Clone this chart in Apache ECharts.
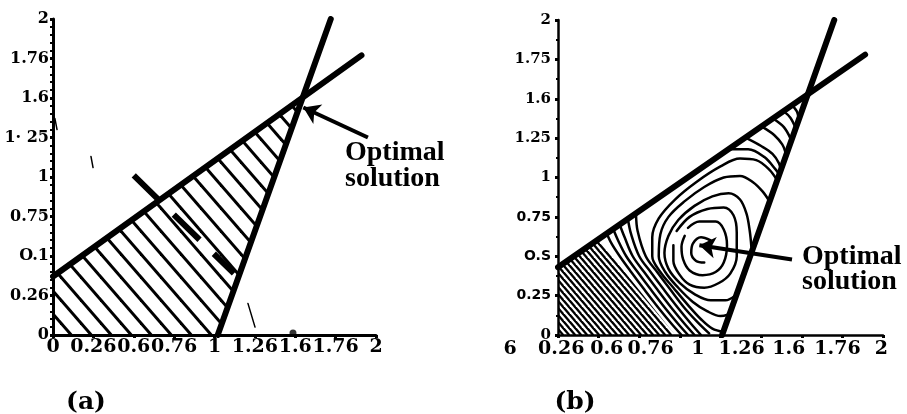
<!DOCTYPE html>
<html>
<head>
<meta charset="utf-8">
<script src="https://cdn.jsdelivr.net/npm/echarts@6/dist/echarts.min.js"></script>
<style>
  html, body { margin: 0; background: #fff; }
  #chart { width: 907px; height: 414px; }
</style>
</head>
<body>
<div id="chart"></div>
<script>
// axis ticks and the (odd) tick labels as printed in the figure
const ticks = [0, 0.25, 0.5, 0.75, 1, 1.25, 1.5, 1.75, 2]
const aXLabels = ['0', '0.26', '0.6', '0.76', '1', '1.26', '1.6', '1.76', '2']
const aYLabels = ['0', '0.26', 'O.1', '0.75', '1', '1· 25', '1.6', '1.76', '2']
const bXLabels = ['0.26', '0.6', '0.76', '1', '1.26', '1.6', '1.76', '2']
const bXLabelPos = [0.02, 0.30, 0.57, 0.86, 1.13, 1.42, 1.72, 1.99]
const bXStray = '6'
const bYLabels = ['0', '0.25', 'O.S', '0.75', '1', '1.25', '1.6', '1.75', '2']
const bYSans = ['0.25', 'O.S', '0.75']

// panel (a): constraints, feasible region, objective line
const aUpper = [[0, 0.37], [1.91, 1.77]]
const aRight = [[1.02, 0], [1.72, 2.0]]
const aRegion = [[0, 0], [0, 0.37], [1.543, 1.497], [1.02, 0]]
const aObjective = [[0.50, 1.01], [1.12, 0.39]]
const aStrokes = [
  [[0.012, 1.37], [0.025, 1.30]],
  [[0.235, 1.13], [0.248, 1.06]],
  [[1.207, 0.20], [1.251, 0.05]]
]
const aDot = [[1.486, 0.013]]
const aArrow = [[1.95, 1.25], [1.55, 1.44]]

// panel (b): constraints, dense level lines, contour curves
const bUpper = [[0, 0.43], [1.89, 1.78]]
const bRight = [[1.01, 0], [1.70, 2.0]]
const bHatch = [[0, 0], [0, 0.43], [0.25, 0.61], [0.72, 0]]
const bArrow = [[1.44, 0.48], [0.87, 0.57]]
const bContours = [
  // spiral around the optimum
  [[0.94, 0.60], [0.88, 0.62], [0.83, 0.58], [0.82, 0.52], [0.85, 0.47], [0.90, 0.46]],
  [[0.80, 0.68], [0.87, 0.72], [0.97, 0.72], [1.02, 0.67], [1.04, 0.57], [1.02, 0.46], [0.97, 0.40], [0.89, 0.38], [0.81, 0.41], [0.77, 0.48], [0.76, 0.56], [0.78, 0.63]],
  [[0.73, 0.66], [0.81, 0.75], [0.92, 0.80], [1.02, 0.81], [1.08, 0.76], [1.10, 0.65], [1.10, 0.50], [1.06, 0.39], [0.99, 0.33], [0.90, 0.30], [0.81, 0.32], [0.75, 0.38], [0.71, 0.47], [0.71, 0.57]],
  // loops cut by the right constraint
  [[1.19, 0.56], [1.18, 0.66], [1.16, 0.77], [1.12, 0.86], [1.05, 0.90], [0.95, 0.88], [0.84, 0.82], [0.74, 0.73], [0.68, 0.63], [0.655, 0.52], [0.68, 0.42], [0.75, 0.33], [0.84, 0.26], [0.94, 0.22], [1.03, 0.22], [1.09, 0.25]],
  [[1.30, 0.85], [1.26, 0.91], [1.20, 0.97], [1.12, 1.01], [1.02, 1.00], [0.90, 0.94], [0.78, 0.85], [0.68, 0.75], [0.63, 0.64], [0.62, 0.50], [0.66, 0.40], [0.74, 0.30], [0.83, 0.21], [0.92, 0.15], [1.00, 0.12], [1.05, 0.13]],
  [[1.35, 0.98], [1.30, 1.05], [1.22, 1.11], [1.12, 1.12], [1.00, 1.07], [0.85, 0.97], [0.72, 0.86], [0.62, 0.74], [0.58, 0.62], [0.58, 0.50], [0.63, 0.40], [0.71, 0.30], [0.80, 0.19], [0.88, 0.10], [0.95, 0.04], [1.02, 0.02]],
  // level lines from the upper constraint down to the x axis
  [[0.48, 0.77], [0.49, 0.66], [0.54, 0.50], [0.61, 0.40], [0.69, 0.29], [0.78, 0.17], [0.86, 0.08], [0.93, 0.01]],
  [[0.43, 0.737], [0.45, 0.64], [0.50, 0.50], [0.57, 0.40], [0.65, 0.29], [0.74, 0.17], [0.82, 0.07], [0.88, 0.0]],
  [[0.38, 0.70], [0.41, 0.62], [0.46, 0.50], [0.53, 0.40], [0.61, 0.29], [0.70, 0.17], [0.78, 0.07], [0.84, 0.0]],
  [[0.34, 0.673], [0.37, 0.60], [0.42, 0.50], [0.49, 0.40], [0.57, 0.29], [0.66, 0.17], [0.74, 0.07], [0.80, 0.0]],
  [[0.30, 0.645], [0.33, 0.58], [0.38, 0.50], [0.45, 0.40], [0.53, 0.29], [0.62, 0.17], [0.70, 0.07], [0.76, 0.0]],
  // arcs in the top corner
  [[1.05, 1.18], [1.17, 1.18], [1.27, 1.13], [1.34, 1.05], [1.36, 1.02]],
  [[1.16, 1.25], [1.25, 1.20], [1.32, 1.15], [1.36, 1.09], [1.37, 1.05]],
  [[1.26, 1.32], [1.33, 1.27], [1.38, 1.21], [1.40, 1.16]],
  [[1.33, 1.37], [1.39, 1.32], [1.43, 1.25]],
  [[1.39, 1.42], [1.43, 1.38], [1.46, 1.32]],
  [[1.44, 1.46], [1.47, 1.42], [1.48, 1.38]]
]

const serif = '"DejaVu Serif"'
const times = '"Liberation Serif"'

// diagonal stripe tile used as hatch fill
function stripes (w, h, lw) {
  const c = document.createElement('canvas')
  c.width = w
  c.height = h
  const g = c.getContext('2d')
  g.strokeStyle = '#000'
  g.lineWidth = lw
  for (let k = -1; k <= 1; k++) {
    g.beginPath()
    g.moveTo(k * w - w, -h)
    g.lineTo(k * w + 2 * w, 2 * h)
    g.stroke()
  }
  return c
}

function seg (data, idx, width, extra) {
  return Object.assign({
    type: 'line',
    xAxisIndex: idx,
    yAxisIndex: idx,
    data: data,
    symbol: 'none',
    silent: true,
    z: 5,
    lineStyle: { color: '#000', width: width, cap: 'round' }
  }, extra || {})
}

function region (points, idx, tile) {
  return {
    type: 'custom',
    xAxisIndex: idx,
    yAxisIndex: idx,
    silent: true,
    z: 1,
    data: [[0, 0]],
    renderItem: (params, api) => ({
      type: 'polygon',
      shape: { points: points.map(p => api.coord(p)) },
      style: { fill: { image: tile, repeat: 'repeat' }, stroke: null }
    })
  }
}

function arrow (coords, idx) {
  return {
    type: 'lines',
    coordinateSystem: 'cartesian2d',
    xAxisIndex: idx,
    yAxisIndex: idx,
    silent: true,
    z: 6,
    symbol: ['none', 'arrow'],
    symbolSize: 16,
    lineStyle: { color: '#000', width: 4, opacity: 1, curveness: 0 },
    data: [{ coords: coords }]
  }
}

const chart = echarts.init(document.getElementById('chart'))

const series = [
  region(aRegion, 0, stripes(20, 23, 3)),
  seg(aUpper, 0, 6),
  seg(aRight, 0, 6),
  seg(aObjective, 0, 6, { lineStyle: { color: '#000', width: 6, type: [36, 20], cap: 'butt' } }),
  seg(aStrokes[0], 0, 1.5),
  seg(aStrokes[1], 0, 1.5),
  seg(aStrokes[2], 0, 1.5),
  {
    type: 'scatter', xAxisIndex: 0, yAxisIndex: 0, data: aDot, symbolSize: 7,
    itemStyle: { color: '#000' }, silent: true, z: 6
  },
  arrow(aArrow, 0),
  region(bHatch, 1, stripes(6, 7, 2.4))
]
bContours.forEach(c => {
  series.push(seg(c, 1, 2.5, { smooth: 0.35, z: 3 }))
})
series.push(seg(bUpper, 1, 6), seg(bRight, 1, 6), arrow(bArrow, 1))

const tickLabel = { color: '#000', fontFamily: serif, fontWeight: 'bold' }

chart.setOption({
  animation: false,
  backgroundColor: '#fff',
  grid: [
    { left: 53, top: 19, width: 323, height: 316, outerBoundsMode: 'none' },
    { left: 558, top: 20, width: 325, height: 315, outerBoundsMode: 'none' }
  ],
  xAxis: [{
    gridIndex: 0,
    type: 'value',
    min: 0,
    max: 2,
    interval: 0.25,
    splitLine: { show: false },
    axisLine: { lineStyle: { color: '#000', width: 3 } },
    axisTick: { length: 3, lineStyle: { color: '#000', width: 3 } },
    axisLabel: Object.assign({ margin: 3, fontSize: 19, formatter: (v, i) => aXLabels[i] }, tickLabel)
  }, {
    gridIndex: 1,
    type: 'value',
    min: 0,
    max: 2,
    splitLine: { show: false },
    axisLine: { lineStyle: { color: '#000', width: 2.5 } },
    axisTick: { customValues: ticks, length: 3, lineStyle: { color: '#000', width: 3 } },
    axisLabel: Object.assign({
      customValues: bXLabelPos,
      margin: 5,
      fontSize: 19,
      formatter: v => bXLabels[bXLabelPos.indexOf(v)]
    }, tickLabel)
  }],
  yAxis: [{
    gridIndex: 0,
    type: 'value',
    min: 0,
    max: 2,
    interval: 0.25,
    splitLine: { show: false },
    axisLine: { lineStyle: { color: '#000', width: 3 } },
    axisTick: { length: 3, lineStyle: { color: '#000', width: 3 } },
    minorTick: { show: true, splitNumber: 5, length: 3, lineStyle: { color: '#000', width: 2 } },
    axisLabel: Object.assign({ margin: 4, fontSize: 16, formatter: (v, i) => aYLabels[i] }, tickLabel)
  }, {
    gridIndex: 1,
    type: 'value',
    min: 0,
    max: 2,
    interval: 0.25,
    splitLine: { show: false },
    axisLine: { lineStyle: { color: '#000', width: 2.5 } },
    axisTick: { length: 3, lineStyle: { color: '#000', width: 3 } },
    minorTick: { show: true, splitNumber: 2, length: 2, lineStyle: { color: '#000', width: 2 } },
    axisLabel: Object.assign({
      margin: 7,
      fontSize: 15,
      formatter: (v, i) => bYSans.indexOf(bYLabels[i]) >= 0 ? '{s|' + bYLabels[i] + '}' : bYLabels[i],
      rich: {
        s: { fontFamily: '"DejaVu Sans"', fontWeight: 'bold', fontSize: 14, color: '#000' }
      }
    }, tickLabel)
  }],
  graphic: [
    { type: 'text', x: 345, y: 153, style: { text: 'Optimal', font: 'bold 28px ' + times, fill: '#000', verticalAlign: 'middle' } },
    { type: 'text', x: 345, y: 179, style: { text: 'solution', font: 'bold 28px ' + times, fill: '#000', verticalAlign: 'middle' } },
    { type: 'text', x: 802, y: 257, style: { text: 'Optimal', font: 'bold 28px ' + times, fill: '#000', verticalAlign: 'middle' } },
    { type: 'text', x: 802, y: 282, style: { text: 'solution', font: 'bold 28px ' + times, fill: '#000', verticalAlign: 'middle' } },
    { type: 'text', x: 510, y: 340, style: { text: bXStray, font: 'bold 19px ' + serif, fill: '#000', align: 'center', verticalAlign: 'top' } },
    { type: 'text', x: 86, y: 402, style: { text: '(a)', font: 'bold 25px ' + serif, fill: '#000', align: 'center', verticalAlign: 'middle' } },
    { type: 'text', x: 575, y: 402, style: { text: '(b)', font: 'bold 25px ' + serif, fill: '#000', align: 'center', verticalAlign: 'middle' } }
  ],
  series: series
})
</script>
</body>
</html>
